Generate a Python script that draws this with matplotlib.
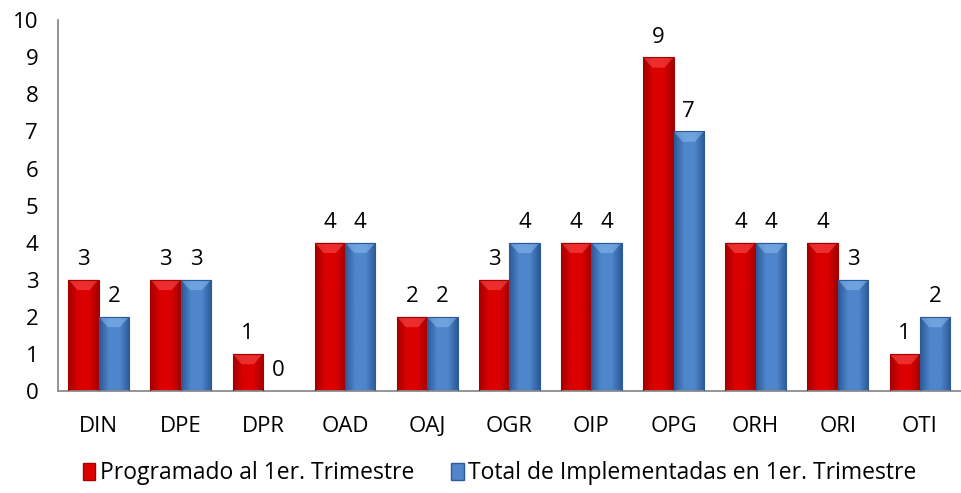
import numpy as np
import matplotlib.pyplot as plt
from matplotlib.colors import LinearSegmentedColormap
from matplotlib.patches import Polygon, Patch

plt.rcParams['font.family'] = ['Open Sans', 'DejaVu Sans']

categorias = ['DIN', 'DPE', 'DPR', 'OAD', 'OAJ', 'OGR', 'OIP', 'OPG', 'ORH', 'ORI', 'OTI']
programado = [3, 3, 1, 4, 2, 3, 4, 9, 4, 4, 1]
implementadas = [2, 3, 0, 4, 2, 4, 4, 7, 4, 3, 2]
nombres = ['Programado al 1er. Trimestre', 'Total de Implementadas en 1er. Trimestre']

# colores: borde oscuro, centro claro, bisel superior
rojo = ('#a30000', '#dc0000', '#ff5a5a')
azul = ('#2c5a98', '#4f86cc', '#8fc0f4')


def pintar_barras(ax, barras, colores):
    cmap = LinearSegmentedColormap.from_list('g', [colores[0], colores[1], colores[1], colores[0]])
    grad = np.linspace(0, 1, 64).reshape(1, -1)
    for b in barras:
        x, w, h = b.get_x(), b.get_width(), b.get_height()
        if h <= 0:
            continue
        b.set_facecolor('none')
        b.set_edgecolor('none')
        im = ax.imshow(grad, cmap=cmap, aspect='auto', extent=(x, x + w, 0, h),
                       zorder=2, interpolation='bicubic')
        im.set_clip_path(b)
        bis = min(0.28, h * 0.3)
        m = w * 0.3
        ax.add_patch(Polygon([(x, h), (x + w, h), (x + w - m, h - bis), (x + m, h - bis)],
                             closed=True, facecolor=colores[2], edgecolor='none', alpha=0.5, zorder=3))
        ax.add_patch(Polygon([(x, h), (x + w, h), (x + w, 0), (x, 0)], closed=True,
                             facecolor='none', edgecolor=colores[0], linewidth=0.8, zorder=3))


fig = plt.figure(figsize=(9.61, 4.93), dpi=100, facecolor='white')
ax = fig.add_axes([0.060, 0.207, 0.940, 0.752])

x = np.arange(len(categorias))
ancho = 0.37
b1 = ax.bar(x - ancho / 2, programado, ancho, color=rojo[1], label=nombres[0], zorder=2)
b2 = ax.bar(x + ancho / 2, implementadas, ancho, color=azul[1], label=nombres[1], zorder=2)

for barras, vals in ((b1, programado), (b2, implementadas)):
    for b, v in zip(barras, vals):
        ax.annotate(str(v), (b.get_x() + b.get_width() / 2, v), xytext=(0, 7),
                    textcoords='offset points', ha='center', va='bottom', fontsize=16)

pintar_barras(ax, b1, rojo)
pintar_barras(ax, b2, azul)

ax.set_xlim(-0.5, len(categorias) - 0.5)
ax.set_ylim(0, 10)
ax.set_yticks(range(0, 11))
ax.set_xticks(x)
ax.set_xticklabels(categorias)
ax.tick_params(axis='both', length=0, labelsize=16)
ax.tick_params(axis='x', pad=18)
ax.tick_params(axis='y', pad=14)
for s in ('top', 'right'):
    ax.spines[s].set_visible(False)
for s in ('left', 'bottom'):
    ax.spines[s].set_color('#8c8c8c')
    ax.spines[s].set_linewidth(1.3)

manijas = [Patch(facecolor=rojo[1], edgecolor=rojo[0]), Patch(facecolor=azul[1], edgecolor=azul[0])]
fig.legend(manijas, nombres, loc='center', bbox_to_anchor=(0.52, 0.04), ncol=2, frameon=False,
           fontsize=16.5, handlelength=0.55, handleheight=0.75, handletextpad=0.2, columnspacing=1.6)

fig.savefig('out.png', dpi=100, facecolor='white')
